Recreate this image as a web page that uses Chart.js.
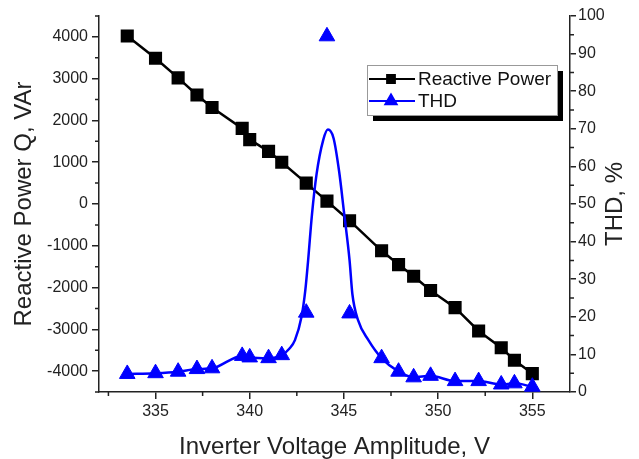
<!DOCTYPE html>
<html>
<head>
<meta charset="utf-8">
<title>Reactive Power and THD vs Inverter Voltage</title>
<script src="https://cdn.jsdelivr.net/npm/chart.js@4.4.1/dist/chart.umd.min.js"></script>
<style>
    body { margin: 0; background: #fff; }
    #wrap { width: 639px; height: 459px; }
</style>
</head>
<body>
<div id="wrap"><canvas id="chart"></canvas></div>
<script>
// Inverter voltage amplitude, V (both measured series share these)
const voltage = [333.5, 335, 336.2, 337.2, 338, 339.6, 340, 341, 341.7, 343, 344.1, 345.3,
                 347, 347.9, 348.7, 349.6, 350.9, 352.15, 353.35, 354.05, 355];
// Reactive power Q, VAr
const reactivePower = [4020, 3490, 3020, 2610, 2310, 1810, 1540, 1260, 1000, 500, 70, -400,
                       -1120, -1450, -1730, -2070, -2480, -3040, -3440, -3740, -4060];
// THD, % (measured points, triangles)
const thd = [4.8, 5.0, 5.4, 6.1, 6.3, 9.6, 9.2, 9.0, 9.8, 21.1, 94.6, 20.9,
             9.0, 5.4, 3.9, 4.3, 2.9, 2.9, 2.0, 2.3, 1.4];

// Smooth THD curve
const thdCurveV = [333.5, 335, 336.2, 337.2, 338, 339.6, 340, 341, 341.7, 342.1, 342.4, 342.75,
                   342.95, 343.1, 343.3, 343.55, 343.9, 344.15, 344.45, 344.75, 345.0, 345.3,
                   345.45, 345.75, 346.3, 347, 347.9, 348.7, 349.6, 350.9, 352.15, 353.35, 354.05, 355];
const thdCurve = [4.8, 5.0, 5.4, 6.1, 6.3, 9.6, 9.2, 9.0, 9.8, 11.5, 13.8, 20.0,
                  27, 35, 47, 58, 67, 69.8, 67.5, 58.5, 48, 35,
                  26, 19.1, 13.8, 9.0, 5.4, 3.9, 4.3, 2.9, 2.9, 2.0, 2.3, 1.4];

// Tick values
const xTicks = [335, 340, 345, 350, 355];
const xMinorTicks = [332.5, 337.5, 342.5, 347.5, 352.5];
const qTicks = [-4000, -3000, -2000, -1000, 0, 1000, 2000, 3000, 4000];
const qMinorTicks = [-4500, -3500, -2500, -1500, -500, 500, 1500, 2500, 3500, 4500];
const thdTicks = [0, 10, 20, 30, 40, 50, 60, 70, 80, 90, 100];
const thdMinorTicks = [5, 15, 25, 35, 45, 55, 65, 75, 85, 95];

const FONT = '"Liberation Sans", Arial, sans-serif';
const AXIS_COLOR = '#222';
const BLUE = '#0000ff';

const toPoints = (xs, ys) => xs.map((v, i) => ({x: v, y: ys[i]}));
const plain = v => String(v);

// short minor ticks, drawn outward like the major ones
const minorTicks = {
    id: 'minorTicks',
    afterDraw(chart) {
        const ctx = chart.ctx;
        const {x, y, y1} = chart.scales;
        ctx.save();
        ctx.strokeStyle = AXIS_COLOR;
        ctx.lineWidth = 1.5;
        ctx.beginPath();
        xMinorTicks.forEach(v => {
            const px = x.getPixelForValue(v);
            ctx.moveTo(px, x.top);
            ctx.lineTo(px, x.top + 4);
        });
        qMinorTicks.forEach(v => {
            const py = y.getPixelForValue(v);
            ctx.moveTo(y.right, py);
            ctx.lineTo(y.right - 4, py);
        });
        thdMinorTicks.forEach(v => {
            const py = y1.getPixelForValue(v);
            ctx.moveTo(y1.left, py);
            ctx.lineTo(y1.left + 4, py);
        });
        ctx.stroke();

        // right axis title reads bottom-to-top, like the left one
        const area = chart.chartArea;
        ctx.translate(615, (area.top + area.bottom) / 2);
        ctx.rotate(-Math.PI / 2);
        ctx.fillStyle = AXIS_COLOR;
        ctx.font = '24px ' + FONT;
        ctx.textAlign = 'center';
        ctx.textBaseline = 'middle';
        ctx.fillText('THD, %', 0, 0);
        ctx.restore();
    }
};

// boxed legend with drop shadow, line-marker-line samples
const boxLegend = {
    id: 'boxLegend',
    afterDraw(chart) {
        const ctx = chart.ctx;
        const area = chart.chartArea;
        const left = area.right - 203, top = 65, w = 190, h = 50;
        ctx.save();
        ctx.fillStyle = '#000';
        ctx.fillRect(left + 6, top + 6, w, h);
        ctx.fillStyle = '#fff';
        ctx.fillRect(left, top, w, h);
        ctx.strokeStyle = '#999';
        ctx.lineWidth = 1;
        ctx.strokeRect(left + 0.5, top + 0.5, w, h);

        const rows = [
            {text: 'Reactive Power', color: '#000', style: 'rect', radius: 5.5, y: top + 14},
            {text: 'THD', color: BLUE, style: 'triangle', radius: 6.5, y: top + 36}
        ];
        rows.forEach(r => {
            ctx.strokeStyle = r.color;
            ctx.lineWidth = 2;
            ctx.beginPath();
            ctx.moveTo(left + 2, r.y);
            ctx.lineTo(left + 48, r.y);
            ctx.stroke();
            ctx.fillStyle = r.color;
            Chart.helpers.drawPoint(ctx, {pointStyle: r.style, radius: r.radius, rotation: 0, borderWidth: 1}, left + 24, r.y);
            ctx.fill();
            ctx.fillStyle = '#111';
            ctx.font = '19px ' + FONT;
            ctx.textBaseline = 'middle';
            ctx.textAlign = 'left';
            ctx.fillText(r.text, left + 51, r.y + 1);
        });
        ctx.restore();
    }
};

const tickFont = {family: FONT, size: 16};
const titleFont = {family: FONT, size: 24, lineHeight: 1};

new Chart(document.getElementById('chart'), {
    type: 'line',
    data: {
        datasets: [{
            label: 'THD fit',
            data: toPoints(thdCurveV, thdCurve),
            yAxisID: 'y1',
            borderColor: BLUE,
            borderWidth: 2.5,
            pointRadius: 0,
            cubicInterpolationMode: 'monotone',
            order: 1
        }, {
            label: 'THD',
            data: toPoints(voltage, thd),
            yAxisID: 'y1',
            showLine: false,
            pointStyle: 'triangle',
            pointRadius: 9,
            backgroundColor: BLUE,
            borderColor: BLUE,
            borderWidth: 1,
            order: 0
        }, {
            label: 'Reactive Power',
            data: toPoints(voltage, reactivePower),
            yAxisID: 'y',
            borderColor: '#000',
            backgroundColor: '#000',
            borderWidth: 2.5,
            pointStyle: 'rect',
            pointRadius: 7.5,
            tension: 0,
            order: 2
        }]
    },
    options: {
        responsive: true,
        maintainAspectRatio: false,
        animation: false,
        layout: {padding: {top: 16, left: 0, right: 0, bottom: 0}},
        plugins: {
            legend: {display: false},
            tooltip: {enabled: false}
        },
        scales: {
            x: {
                type: 'linear',
                min: 332,
                max: 357,
                afterBuildTicks: s => { s.ticks = xTicks.map(v => ({value: v})); },
                afterFit: s => { s.height = 67; },
                ticks: {font: tickFont, color: AXIS_COLOR, padding: 3, maxRotation: 0, callback: plain},
                grid: {drawOnChartArea: false, tickLength: 7, color: AXIS_COLOR, lineWidth: 1.5},
                border: {color: AXIS_COLOR, width: 1.5},
                title: {display: true, text: 'Inverter Voltage Amplitude, V', font: titleFont, color: AXIS_COLOR, padding: {top: 0, bottom: 0}}
            },
            y: {
                position: 'left',
                min: -4500,
                max: 4500,
                afterBuildTicks: s => { s.ticks = qTicks.map(v => ({value: v})); },
                afterFit: s => { s.width = 99; },
                ticks: {font: tickFont, color: AXIS_COLOR, padding: 4, callback: plain},
                grid: {drawOnChartArea: false, tickLength: 7, color: AXIS_COLOR, lineWidth: 1.5},
                border: {color: AXIS_COLOR, width: 1.5},
                title: {display: true, text: 'Reactive Power Q, VAr', font: titleFont, color: AXIS_COLOR, padding: {top: 12, bottom: 0}}
            },
            y1: {
                position: 'right',
                min: 0,
                max: 100,
                afterBuildTicks: s => { s.ticks = thdTicks.map(v => ({value: v})); },
                afterFit: s => { s.width = 69; },
                ticks: {font: tickFont, color: AXIS_COLOR, padding: 2, callback: plain},
                grid: {drawOnChartArea: false, tickLength: 6, color: AXIS_COLOR, lineWidth: 1.5},
                border: {color: AXIS_COLOR, width: 1.5},
                title: {display: false}
            }
        }
    },
    plugins: [minorTicks, boxLegend]
});
</script>
</body>
</html>
